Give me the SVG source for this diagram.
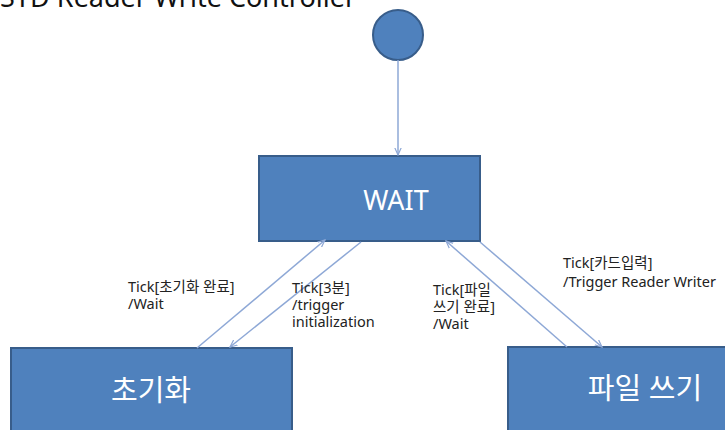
<svg xmlns="http://www.w3.org/2000/svg" width="725" height="430" viewBox="0 0 725 430">
<defs>
<style>
.node{fill:#4F81BD;stroke:#385D8A;stroke-width:2}
.ntext{fill:#fff;font-family:"Noto Sans","Noto Sans CJK KR",sans-serif;text-anchor:middle}
.edge{stroke:#8EA8D6;stroke-width:1.5;fill:none;marker-end:url(#arr)}
.lbl{fill:#222;font-family:"Noto Sans","Noto Sans CJK KR",sans-serif;font-size:14.5px}
</style>
<marker id="arr" viewBox="0 0 10 10" refX="9" refY="5" markerWidth="8" markerHeight="8" orient="auto-start-reverse" markerUnits="userSpaceOnUse">
<path d="M0,1 L9,5 L0,9" fill="none" stroke="#8EA8D6" stroke-width="1.5"/>
</marker>
</defs>
<rect width="725" height="430" fill="#fff"/>
<text x="0" y="7" font-family="Noto Sans, sans-serif" font-size="27" fill="#111">SYD Reader Write Controller</text>
<g id="start"><circle class="node" cx="398" cy="35" r="25"/></g>
<g id="wait"><rect class="node" x="259" y="156" width="221" height="85"/><text class="ntext" x="396" y="210" font-size="27">WAIT</text></g>
<g id="init"><rect class="node" x="11" y="348" width="281" height="90"/><text class="ntext" x="151" y="401" font-size="29">초기화</text></g>
<g id="write"><rect class="node" x="508" y="347" width="230" height="90"/><text class="ntext" x="645" y="399" font-size="29">파일 쓰기</text></g>
<g id="connectors">
<line class="edge" x1="197" y1="348" x2="325" y2="240"/>
<line class="edge" x1="398" y1="60" x2="398" y2="155"/>
<line class="edge" x1="361" y1="242" x2="230" y2="347"/>
<line class="edge" x1="567" y1="347" x2="446" y2="241"/>
<line class="edge" x1="480" y1="242" x2="602" y2="347"/>
</g>
<g id="labels">
<text class="lbl" x="128" y="292">Tick[초기화 완료]</text>
<text class="lbl" x="128" y="309">/Wait</text>
<text class="lbl" x="292" y="293">Tick[3분]</text>
<text class="lbl" x="292" y="310">/trigger</text>
<text class="lbl" x="292" y="327">initialization</text>
<text class="lbl" x="433" y="295">Tick[파일</text>
<text class="lbl" x="433" y="312">쓰기 완료]</text>
<text class="lbl" x="433" y="329">/Wait</text>
<text class="lbl" x="563" y="268">Tick[카드입력]</text>
<text class="lbl" x="563" y="287">/Trigger Reader Writer</text>
</g>
</svg>
